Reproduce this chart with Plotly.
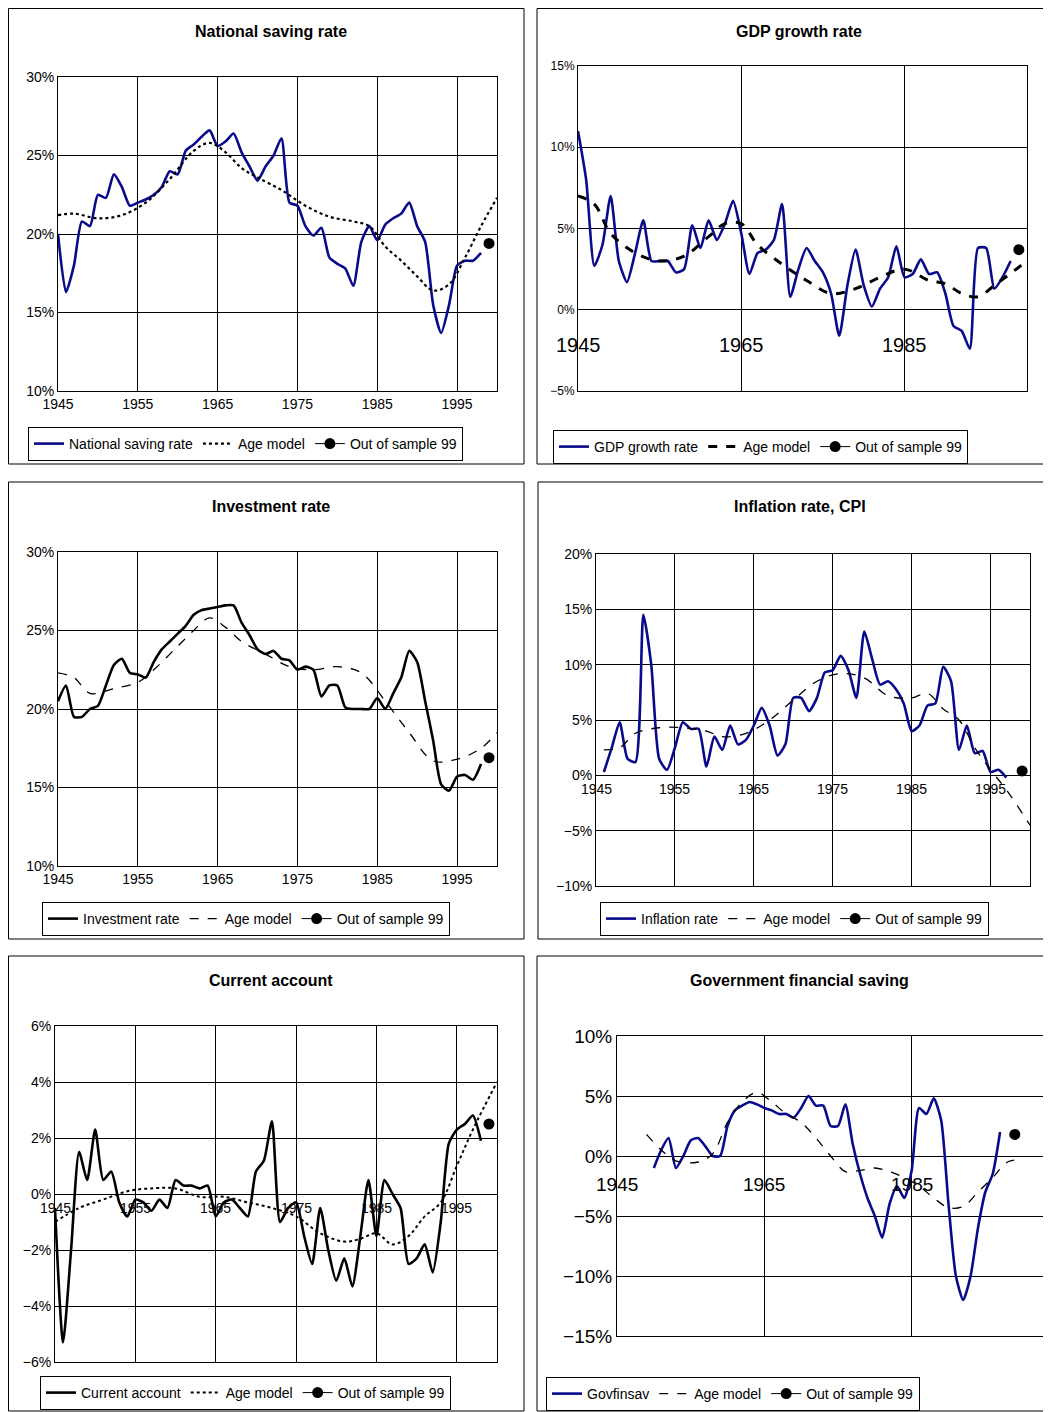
import plotly.graph_objects as go

W, H = 1051, 1412
OFF = 8  # page body margin in the browser

# ---------- data ----------
yrs_sav = list(range(1945, 1999))
nat_saving = [20, 16.3, 18, 20.8, 20.5, 22.5, 22.3, 23.8, 23, 21.8, 22, 22.2, 22.5, 23, 24, 23.8, 25.3, 25.7,
              26.2, 26.6, 25.6, 25.9, 26.4, 25.2, 24.3, 23.4, 24.3, 25, 26.1, 22, 21.8, 20.5, 19.9, 20.4, 18.5,
              18.1, 17.8, 16.7, 19.5, 20.5, 19.6, 20.6, 21, 21.3, 22, 20.5, 19.5, 15.5, 13.7, 15.5, 18, 18.3,
              18.3, 18.8]
age_sav_x = [1945, 1947, 1950, 1953, 1956, 1959, 1962, 1964, 1966, 1968, 1970, 1973, 1976, 1979, 1982, 1984,
             1986, 1988, 1990, 1992, 1994, 1996, 1998, 2000]
age_sav = [21.2, 21.3, 21, 21.2, 22, 23.5, 25.3, 25.8, 25.2, 24.2, 23.6, 22.8, 21.8, 21.1, 20.8, 20.5, 19.2,
           18.3, 17.3, 16.4, 16.8, 18.5, 20.5, 22.3]
oos_sav = (1999, 19.4)

yrs_gdp = list(range(1945, 1999))
gdp = [11, 8, 2.7, 4, 7, 3, 1.7, 3.5, 5.5, 3, 3, 3, 2.3, 2.5, 5.2, 3.8, 5.5, 4.3, 5.3, 6.7, 4.7, 2.2, 3.5, 3.7,
       4.3, 6.5, 0.8, 2.5, 3.8, 3, 2.3, 1, -1.6, 1.5, 3.7, 1.5, 0.2, 1.3, 2, 3.9, 2, 2.2, 3.1, 2.2, 2.3, 1, -1,
       -1.3, -2.4, 3.8, 3.8, 1.3, 2, 3]
age_gdp_x = [1945, 1947, 1949, 1952, 1955, 1958, 1961, 1963, 1965, 1967, 1970, 1973, 1976, 1979, 1982, 1985,
             1988, 1990, 1992, 1994, 1996, 2000]
age_gdp = [7, 6.5, 4.7, 3.5, 3, 3.3, 4.5, 5.3, 5.3, 4, 2.8, 1.8, 1, 1.3, 2, 2.5, 1.8, 1.6, 1, 0.8, 1.5, 3]
oos_gdp = (1999, 3.7)

yrs_inv = list(range(1945, 1999))
investment = [20.5, 21.5, 19.5, 19.5, 20, 20.2, 21.5, 22.8, 23.2, 22.3, 22.2, 22, 23, 23.8, 24.3, 24.8, 25.3,
              26, 26.3, 26.4, 26.5, 26.6, 26.6, 25.5, 24.7, 23.8, 23.5, 23.7, 23.2, 23.1, 22.5, 22.7, 22.5,
              20.8, 21.5, 21.5, 20.1, 20, 20, 20, 20.7, 20, 21, 22, 23.7, 23, 20.5, 18, 15.2, 14.8, 15.7, 15.8,
              15.5, 16.5]
age_inv_x = [1945, 1947, 1949, 1952, 1955, 1957, 1960, 1962, 1964, 1966, 1968, 1971, 1974, 1977, 1980, 1983,
             1986, 1989, 1992, 1995, 1998, 2000]
age_inv = [22.3, 22, 21, 21.3, 21.7, 22.5, 24, 25, 25.8, 25.2, 24.3, 23.5, 22.7, 22.5, 22.7, 22.3, 20.5, 18.5,
           16.7, 16.8, 17.5, 18.5]
oos_inv = (1999, 16.9)

yrs_inf = list(range(1946, 1998))
inflation = [0.3, 2.5, 4.8, 1.5, 1.2, 14.5, 10, 1.5, 0.5, 2.5, 4.8, 4.2, 4.2, 0.8, 3.5, 2.3, 4.5, 2.8, 3.2, 4.5,
             6.1, 4.5, 1.8, 2.8, 7, 7, 5.8, 7, 9.3, 9.5, 10.8, 9.5, 7, 13, 10.5, 8.2, 8.5, 7.8, 6.5, 4, 4.5, 6.3,
             6.5, 9.8, 8.5, 2.3, 4.5, 2, 2.2, 0.3, 0.5, -0.2]
age_inf_x = [1946, 1948, 1950, 1953, 1956, 1959, 1961, 1964, 1967, 1970, 1973, 1976, 1979, 1982, 1985, 1987,
             1989, 1991, 1993, 1995, 1997, 2000]
age_inf = [2.3, 2.5, 3.8, 4.3, 4.3, 4, 3.5, 3.8, 5, 6.8, 8.5, 9.2, 8.8, 7.2, 7, 7.4, 6, 5, 2.5, 0.5, -1.3, -4.5]
oos_inf = (1999, 0.4)

yrs_ca = list(range(1945, 1999))
current_account = [-0.5, -5.3, -2, 1.5, 0.5, 2.3, 0.5, 0.8, -0.3, -0.8, -0.2, -0.3, -0.6, -0.2, -0.5, 0.5, 0.3,
                   0.3, 0.2, 0.3, -0.8, -0.3, -0.2, -0.5, -0.8, 0.8, 1.2, 2.6, -1, -0.5, -0.3, -1.5, -2.5, -0.5,
                   -2, -3.1, -2.3, -3.3, -1.5, 0.5, -1.5, 0.5, 0, -0.5, -2.5, -2.3, -1.8, -2.8, -1, 1.8, 2.3,
                   2.5, 2.8, 1.9]
age_ca_x = [1945, 1948, 1951, 1954, 1957, 1960, 1963, 1966, 1969, 1972, 1975, 1978, 1981, 1983, 1985, 1987,
            1989, 1991, 1993, 1995, 1997, 2000]
age_ca = [-1, -0.5, -0.2, 0.1, 0.2, 0.2, -0.1, -0.1, -0.3, -0.5, -0.8, -1.4, -1.7, -1.6, -1.4, -1.8, -1.5,
          -0.8, -0.3, 1, 2.3, 4]
oos_ca = (1999, 2.5)

yrs_gov = list(range(1950, 1998))
govfinsav = [-1, 0.5, 1.5, -1, 0, 1.3, 1.5, 0.8, 0, 0, 2.5, 3.8, 4.2, 4.5, 4.3, 4, 3.8, 3.5, 3.5, 3.2, 4, 5, 4.2,
             4.2, 2.5, 2.5, 4.3, 1, -1.5, -3.5, -5, -6.8, -4, -2.5, -3.5, -1.2, 4, 3.5, 4.8, 3, -4, -10, -12,
             -10, -6, -3, -1.5, 2]
age_gov_x = [1949, 1951, 1953, 1956, 1958, 1960, 1962, 1964, 1966, 1968, 1970, 1972, 1974, 1976, 1978, 1980,
             1982, 1984, 1986, 1988, 1990, 1992, 1994, 1996, 1998, 2000]
age_gov = [1.8, 0.5, -0.4, -0.5, 0.2, 2.8, 4.5, 5.3, 4.5, 3.5, 2.8, 1.5, 0, -1.3, -1.2, -1, -1.3, -1.8, -2.5,
           -3.5, -4.3, -4.2, -3, -1.8, -0.5, -0.3]
oos_gov = (1999, 1.8)

NAVY = "#0a0a8c"
BLACK = "black"

fig = go.Figure()

def px(x): return max(x - OFF, 0.5) / W
def py(y): return 1 - max(y - OFF, 0.5) / H

panels = [
    # title, box, plot area, legend (left, bottom), tick font sizes (y, x), year-label shift
    dict(title="National saving rate", box=(7, 7, 525, 465), area=(58, 77, 497, 391), leg=(28, 461),
         xs=yrs_sav, ys=nat_saving, ax=age_sav_x, ay=age_sav, oos=oos_sav, name="National saving rate",
         color=NAVY, dash="dot", dw=2.2, yr=(10, 30), dy=5, xr=(1945, 2000), dx=10, xlab="bottom",
         yfs=14, xfs=14, shift=0),
    dict(title="GDP growth rate", box=(537, 7, 1051, 465), area=(578, 66, 1027, 391), leg=(553, 464),
         xs=yrs_gdp, ys=gdp, ax=age_gdp_x, ay=age_gdp, oos=oos_gdp, name="GDP growth rate",
         color=NAVY, dash="dash", dw=3, yr=(-5, 15), dy=5, xr=(1945, 2000), dx=20, xlab="zero",
         yfs=12, xfs=20, shift=-22),
    dict(title="Investment rate", box=(7, 482, 525, 940), area=(58, 552, 497, 866), leg=(42, 936),
         xs=yrs_inv, ys=investment, ax=age_inv_x, ay=age_inv, oos=oos_inv, name="Investment rate",
         color=BLACK, dash="dash", dw=1.3, yr=(10, 30), dy=5, xr=(1945, 2000), dx=10, xlab="bottom",
         yfs=14, xfs=14, shift=0),
    dict(title="Inflation rate, CPI", box=(538, 482, 1051, 940), area=(596, 554, 1030, 886), leg=(600, 936),
         xs=yrs_inf, ys=inflation, ax=age_inf_x, ay=age_inf, oos=oos_inf, name="Inflation rate",
         color=NAVY, dash="dash", dw=1.3, yr=(-10, 20), dy=5, xr=(1945, 2000), dx=10, xlab="zero",
         yfs=14, xfs=14, shift=-4),
    dict(title="Current account", box=(7, 956, 525, 1412), area=(55, 1026, 497, 1362), leg=(40, 1410),
         xs=yrs_ca, ys=current_account, ax=age_ca_x, ay=age_ca, oos=oos_ca, name="Current account",
         color=BLACK, dash="dot", dw=2, yr=(-6, 6), dy=2, xr=(1945, 2000), dx=10, xlab="zero",
         yfs=14, xfs=14, shift=-4),
    dict(title="Government financial saving", box=(537, 956, 1051, 1412), area=(617, 1036, 1059, 1336),
         leg=(546, 1411), xs=yrs_gov, ys=govfinsav, ax=age_gov_x, ay=age_gov, oos=oos_gov, name="Govfinsav",
         color=NAVY, dash="dash", dw=1.3, yr=(-15, 10), dy=5, xr=(1945, 2005), dx=20, xlab="zero",
         yfs=19, xfs=19, shift=-16),
]

shapes, annotations = [], []
for i, p in enumerate(panels):
    n = "" if i == 0 else str(i + 1)
    xa, ya = "xaxis" + n, "yaxis" + n
    xr_, yr_ = "x" + n, "y" + n
    lg = "legend" + n
    x0, y0, x1, y1 = p["area"]
    fig.add_trace(go.Scatter(x=p["xs"], y=p["ys"], mode="lines", name=p["name"], xaxis=xr_, yaxis=yr_,
                             line=dict(color=p["color"], width=2.6, shape="spline", smoothing=0.6), legend=lg))
    fig.add_trace(go.Scatter(x=p["ax"], y=p["ay"], mode="lines", name="Age model", xaxis=xr_, yaxis=yr_,
                             line=dict(color="black", width=p["dw"], dash=p["dash"], shape="spline"), legend=lg))
    fig.add_trace(go.Scatter(x=[p["oos"][0]], y=[p["oos"][1]], mode="lines+markers", name="Out of sample 99",
                             xaxis=xr_, yaxis=yr_, marker=dict(color="black", size=11),
                             line=dict(color="black", width=1), legend=lg))
    ticks = list(range(p["xr"][0], p["xr"][1] + 1, p["dx"]))
    fig.update_layout({
        xa: dict(domain=[px(x0), min(px(x1), 1)], range=list(p["xr"]), tickvals=ticks,
                 showticklabels=(p["xlab"] == "bottom"), showgrid=True, gridcolor="black", gridwidth=1,
                 showline=True, linecolor="black", mirror=True, ticks="", zeroline=False,
                 tickfont=dict(size=p["xfs"]), anchor=yr_, automargin=False),
        ya: dict(domain=[py(y1), py(y0)], range=list(p["yr"]), dtick=p["dy"], ticksuffix="%",
                 showgrid=True, gridcolor="black", gridwidth=1, showline=True, linecolor="black",
                 mirror=True, ticks="", zeroline=False, tickfont=dict(size=p["yfs"]), anchor=xr_,
                 automargin=False),
        lg: dict(x=px(p["leg"][0]), y=py(p["leg"][1]), xanchor="left", yanchor="bottom", orientation="h",
                 bordercolor="black", borderwidth=1, bgcolor="white", font=dict(size=14),
                 tracegroupgap=0),
    })
    if p["xlab"] == "zero":
        for t in ticks:
            if t <= p["xr"][1] - 4:
                annotations.append(dict(x=t, y=0, xref=xr_, yref=yr_, text=str(t), showarrow=False,
                                        yanchor="top", xanchor="center", yshift=p["shift"],
                                        font=dict(size=p["xfs"])))
    bx0, by0, bx1, by1 = p["box"]
    shapes.append(dict(type="rect", xref="paper", yref="paper", x0=px(bx0), x1=px(bx1 - 1),
                       y0=py(by1 - 1), y1=py(by0), line=dict(color="black", width=1), layer="below"))
    annotations.append(dict(x=px((bx0 + bx1) / 2 + 5), y=py(by0 + 24), xref="paper", yref="paper",
                            xanchor="center", yanchor="middle",
                            text="<b>" + p["title"] + "</b>", showarrow=False, font=dict(size=16)))

fig.update_layout(width=W, height=H, margin=dict(l=0, r=0, t=0, b=0, autoexpand=False), plot_bgcolor="white",
                  paper_bgcolor="white", shapes=shapes, annotations=annotations,
                  font=dict(family="Liberation Sans, Arial", color="black"), showlegend=True)

fig.write_html("out.html")
